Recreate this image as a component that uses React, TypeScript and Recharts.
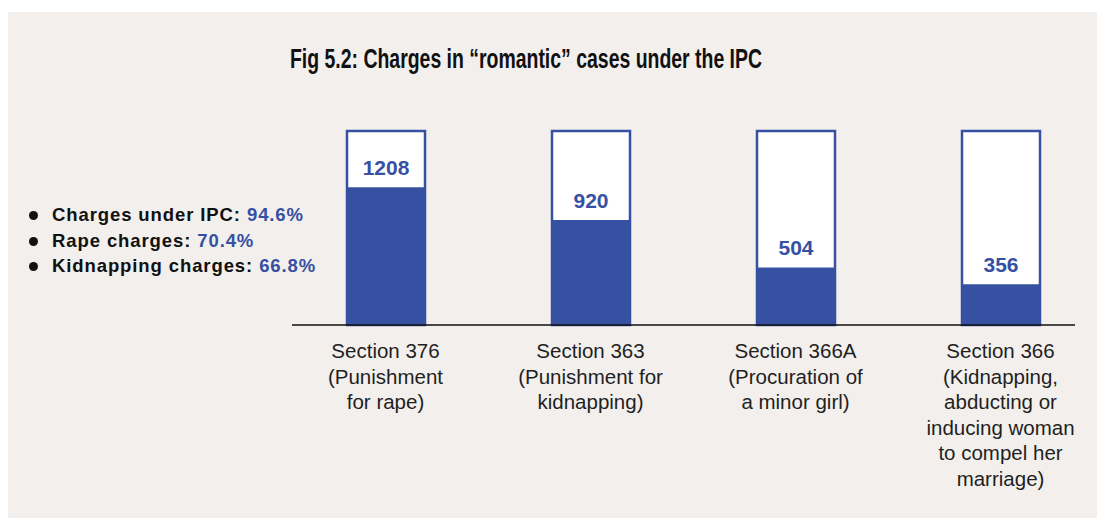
import React from 'react';
import { BarChart, Bar, XAxis, YAxis, LabelList } from 'recharts';

const categories = ['Section 376', 'Section 363', 'Section 366A', 'Section 366'];
const descriptions = [
  ['(Punishment', 'for rape)'],
  ['(Punishment for', 'kidnapping)'],
  ['(Procuration of', 'a minor girl)'],
  ['(Kidnapping,', 'abducting or', 'inducing woman', 'to compel her', 'marriage)'],
];
const charges = [1208, 920, 504, 356];
const totalScale = 1700;

const legendLabels = ['Charges under IPC:', 'Rape charges:', 'Kidnapping charges:'];
const legendValues = ['94.6%', '70.4%', '66.8%'];

const title = 'Fig 5.2: Charges in \u201Cromantic\u201D cases under the IPC';

const BLUE = '#3650a2';
const BG = '#f3efec';

const data = categories.map((c, i) => ({ name: c, value: charges[i] }));

const CategoryTick = (props: any) => {
  const { x, y, payload } = props;
  const idx = categories.indexOf(payload.value);
  const lines = [payload.value, ...(descriptions[idx] || [])];
  return (
    <g transform={`translate(${x},${y})`}>
      <text textAnchor="middle" fill="#1f1f1f" fontSize={20.5} fontFamily="'Liberation Sans', Arial, sans-serif">
        {lines.map((l, i) => (
          <tspan key={i} x={0} y={25 + i * 25.6}>{l}</tspan>
        ))}
      </text>
    </g>
  );
};

export default function App() {
  return (
    <div style={{ position: 'relative', width: 1097, height: 506, marginTop: 4, background: BG, overflow: 'hidden' }}>
      <svg style={{ position: 'absolute', left: 0, top: 0 }} width={1097} height={90}>
        <text
          x={282}
          y={56}
          textLength={472}
          lengthAdjust="spacingAndGlyphs"
          fontFamily="'Liberation Sans', Arial, sans-serif"
          fontWeight="bold"
          fontSize={28}
          fill="#111"
        >
          {title}
        </text>
      </svg>
      <div
        style={{
          position: 'absolute', left: 20, top: 190,
          fontFamily: "'Liberation Sans', Arial, sans-serif", fontWeight: 'bold', fontSize: 18.5, letterSpacing: 0.9,
          lineHeight: '25.5px', color: '#111',
        }}
      >
        {legendLabels.map((l, i) => (
          <div key={i} style={{ whiteSpace: 'nowrap' }}>
            <span
              style={{
                display: 'inline-block', width: 9, height: 9, borderRadius: '50%', background: '#111',
                marginLeft: 1, marginRight: 14, position: 'relative', top: -1,
              }}
            />
            {l} <span style={{ color: BLUE }}>{legendValues[i]}</span>
          </div>
        ))}
      </div>
      <div style={{ position: 'absolute', left: 0, top: 0 }}>
        <BarChart width={1097} height={506} data={data} margin={{ top: 119, right: 30, bottom: 13, left: 284 }}>
          <XAxis
            dataKey="name"
            tick={<CategoryTick />}
            tickLine={false}
            axisLine={{ stroke: '#111', strokeWidth: 1.5 }}
            interval={0}
            height={180}
            padding={{ left: -9, right: -28 }}
          />
          <YAxis hide domain={[0, totalScale]} />
          <Bar
            dataKey="value"
            fill={BLUE}
            barSize={78}
            isAnimationActive={false}
            background={{ fill: '#ffffff', stroke: BLUE, strokeWidth: 2.5 }}
          >
            <LabelList
              dataKey="value"
              position="top"
              offset={12}
              fill={BLUE}
              fontSize={21}
              fontWeight="bold"
              fontFamily="'Liberation Sans', Arial, sans-serif"
            />
          </Bar>
        </BarChart>
      </div>
    </div>
  );
}
